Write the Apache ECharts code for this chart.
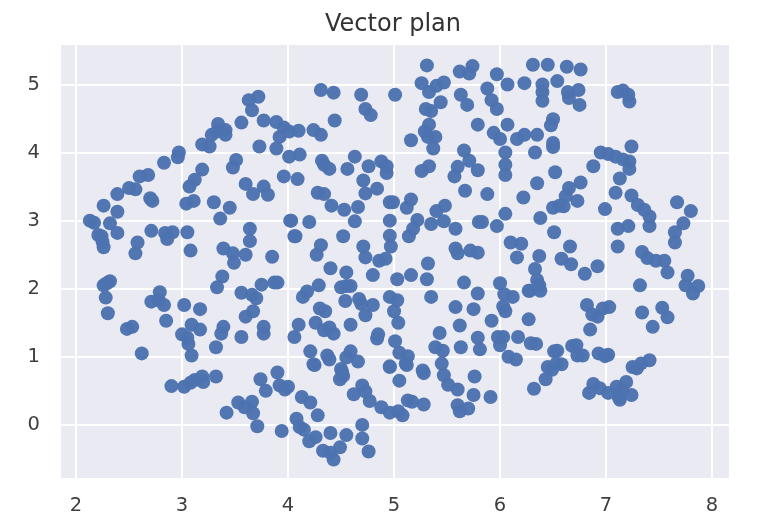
<!DOCTYPE html>
<html><head><meta charset="utf-8">
<script src="https://cdn.jsdelivr.net/npm/echarts@6/dist/echarts.min.js"></script>
<style>html,body{margin:0;padding:0;background:#fff}#c{width:774px;height:532px}</style></head>
<body><div id="c"></div>
<script>
const chartTitle = "Vector plan";
const xExtent = [1.858, 8.16];
const yExtent = [-0.78, 5.58];
const xTicks = [2,3,4,5,6,7,8];
const yTicks = [0,1,2,3,4,5];
const topLeft = [[3.72,4.82],[3.63,4.77],[3.66,4.62],[3.56,4.44],[3.77,4.47],[3.89,4.45],[3.96,4.37],[3.92,4.23],[4.01,4.31],[4.10,4.32],[3.34,4.42],[3.28,4.26],[3.41,4.33],[3.41,4.26],[3.33,4.31],[3.19,4.12],[3.26,4.09],[3.73,4.09],[3.89,4.06],[4.01,3.94],[4.11,3.97],[2.97,4.0],[2.96,3.93],[2.83,3.85],[2.68,3.67],[2.60,3.65],[2.56,3.46],[2.50,3.48],[2.39,3.39],[2.26,3.22],[2.39,3.13],[2.70,3.33],[2.72,3.29],[3.51,3.89],[3.48,3.78],[3.19,3.75],[3.12,3.60],[3.07,3.50],[3.11,3.29],[3.04,3.25],[3.30,3.27],[3.45,3.19],[3.60,3.54],[3.67,3.39],[3.77,3.50],[3.81,3.38],[3.96,3.65],[4.09,3.61]];
const midLeft = [[2.13,3.00],[2.17,2.97],[2.32,2.96],[2.39,2.82],[2.21,2.79],[2.24,2.77],[2.25,2.69],[2.26,2.61],[2.58,2.68],[2.56,2.52],[2.71,2.85],[2.84,2.82],[2.91,2.83],[2.86,2.73],[3.05,2.83],[3.08,2.56],[3.36,3.03],[4.02,3.00],[4.07,2.77],[3.64,2.88],[3.64,2.70],[3.39,2.59],[3.48,2.52],[3.49,2.38],[3.60,2.50],[3.85,2.47],[3.38,2.18],[3.33,2.02],[3.56,1.94],[3.75,2.06],[3.87,2.09],[3.90,2.09],[3.66,1.91],[3.70,1.86],[3.67,1.67],[3.60,1.59],[3.77,1.44],[3.77,1.34],[2.32,2.11],[2.29,2.08],[2.26,2.05],[2.28,1.87],[2.30,1.64],[2.48,1.41],[2.53,1.44],[2.79,1.95],[2.71,1.81],[2.78,1.83],[2.83,1.76],[3.02,1.76],[3.17,1.70],[2.85,1.53],[2.62,1.05],[3.09,1.47],[3.17,1.40],[3.00,1.33],[3.05,1.28],[3.06,1.19],[3.09,1.02],[3.32,1.14],[3.39,1.44],[3.37,1.34],[3.56,1.29]];
const bottomLeft = [[2.90,0.57],[3.02,0.56],[3.08,0.62],[3.12,0.66],[3.19,0.71],[3.20,0.63],[3.32,0.71],[3.42,0.18],[3.53,0.33],[3.59,0.26],[3.66,0.34],[3.67,0.17],[3.71,-0.02],[3.74,0.67],[3.79,0.50],[3.90,0.77],[3.92,0.58],[3.97,0.52],[4.00,0.56],[3.94,-0.09],[4.13,0.41],[4.21,0.33],[4.28,0.14],[4.08,0.09],[4.11,-0.03],[4.15,-0.07],[4.26,-0.18],[4.20,-0.24],[4.40,-0.12],[4.55,-0.15],[4.49,-0.33],[4.33,-0.38],[4.43,-0.51],[4.40,-0.41],[4.70,0.0],[4.70,-0.20],[4.76,-0.39],[4.25,0.88],[4.51,0.78],[4.52,0.72],[4.49,0.67],[4.70,0.58],[4.62,0.45],[4.73,0.49],[4.77,0.35],[4.88,0.26],[4.96,0.18],[5.04,0.20],[5.08,0.14],[4.96,0.85],[5.05,0.65],[5.12,0.88],[5.17,0.34]];
const topMiddle = [[5.31,5.28],[5.62,5.19],[5.71,5.16],[5.74,5.27],[5.97,5.15],[6.07,5.0],[6.23,5.02],[5.26,5.02],[5.47,5.03],[5.40,4.98],[5.33,4.89],[4.31,4.92],[4.43,4.88],[4.69,4.85],[5.01,4.85],[4.73,4.64],[4.78,4.55],[4.44,4.47],[5.63,4.85],[5.69,4.70],[5.88,4.94],[5.92,4.77],[5.97,4.64],[5.44,4.74],[5.30,4.64],[5.35,4.61],[5.33,4.41],[5.79,4.41],[6.07,4.41],[4.24,4.33],[4.31,4.26],[5.29,4.31],[5.32,4.23],[5.39,4.23],[5.37,4.06],[5.16,4.18],[5.94,4.29],[6.0,4.20],[6.16,4.20],[6.23,4.26],[6.05,4.0],[6.05,3.82],[6.05,3.67],[5.66,4.03],[5.71,3.88],[5.79,3.74],[4.32,3.88],[4.34,3.82],[4.39,3.76],[4.63,3.94],[4.56,3.76],[4.76,3.80],[4.88,3.87],[4.93,3.80],[4.93,3.70],[5.33,3.80],[5.26,3.73],[5.60,3.79],[5.57,3.65],[4.71,3.59],[4.73,3.40],[4.84,3.47],[4.28,3.41],[4.34,3.39],[5.67,3.44],[5.88,3.39],[6.22,3.34],[4.41,3.22],[4.53,3.16],[4.66,3.20],[4.96,3.27],[4.99,3.27],[5.16,3.31],[5.12,3.19],[5.48,3.22],[5.40,3.14]];
const centre = [[4.63,2.99],[4.03,3.0],[4.20,2.98],[4.06,2.77],[4.52,2.77],[4.96,3.0],[5.22,3.01],[5.18,2.88],[5.14,2.77],[5.35,2.95],[5.47,2.99],[5.58,2.88],[5.80,2.98],[5.83,2.98],[5.97,2.92],[6.05,3.10],[4.96,2.78],[4.97,2.62],[4.71,2.62],[4.73,2.46],[4.86,2.41],[4.92,2.44],[4.31,2.64],[4.27,2.50],[4.40,2.30],[4.55,2.24],[4.55,2.04],[4.59,2.04],[4.50,2.02],[4.80,2.20],[5.03,2.14],[5.16,2.20],[5.31,2.14],[5.32,2.37],[5.58,2.59],[5.60,2.52],[5.72,2.56],[5.79,2.53],[6.10,2.68],[6.20,2.66],[6.16,2.46],[4.29,2.05],[4.18,1.96],[4.14,1.88],[5.66,2.09],[6.0,2.08],[5.79,1.93],[6.04,1.92],[6.12,1.88],[5.35,1.88],[6.27,1.97],[4.54,1.82],[4.67,1.85],[4.69,1.78],[4.80,1.76],[4.73,1.61],[4.96,1.88],[5.03,1.83],[5.0,1.67],[5.58,1.73],[5.75,1.70],[6.03,1.74],[6.05,1.67],[4.30,1.71],[4.35,1.67],[5.04,1.50],[5.62,1.46],[5.92,1.53],[4.10,1.47],[4.26,1.50],[4.34,1.39],[4.39,1.43],[4.43,1.34],[4.59,1.47],[4.85,1.33],[4.84,1.27],[4.06,1.29],[5.43,1.35],[5.01,1.23],[5.39,1.14],[5.46,1.09],[5.63,1.14],[5.79,1.28],[5.81,1.11],[5.98,1.29],[6.03,1.29],[6.0,1.17],[6.17,1.29],[5.05,1.06],[5.13,1.01],[6.08,1.0],[6.15,0.96],[4.21,1.08],[4.37,1.02],[4.39,0.96],[4.59,1.08],[4.55,0.99],[4.66,0.93],[4.24,0.89],[4.96,0.86],[5.11,0.90],[5.45,0.90],[4.50,0.82],[5.27,0.80]];
const bottomRight = [[5.28,0.76],[5.47,0.73],[5.51,0.59],[5.60,0.52],[5.76,0.71],[5.75,0.44],[5.91,0.41],[5.13,0.36],[5.28,0.30],[5.60,0.29],[5.62,0.20],[5.70,0.24],[6.34,1.19],[6.54,1.09],[6.72,1.17],[6.78,1.02],[6.58,0.89],[6.49,0.81],[6.43,0.67],[6.32,0.53],[7.29,0.83],[6.88,0.60],[6.84,0.47],[6.94,0.54],[7.02,0.47],[7.10,0.56],[7.19,0.63],[7.12,0.41],[7.13,0.37],[7.24,0.44],[7.15,0.51]];
const topRight = [[6.31,5.29],[6.45,5.29],[6.63,5.26],[6.76,5.22],[6.54,5.05],[6.40,5.0],[6.40,4.89],[6.40,4.76],[6.64,4.89],[6.74,4.92],[6.65,4.80],[6.75,4.70],[7.11,4.89],[7.16,4.91],[7.21,4.85],[7.22,4.75],[6.50,4.49],[6.48,4.40],[6.35,4.26],[6.50,4.14],[6.50,4.08],[6.33,4.0],[7.24,4.09],[6.95,4.0],[7.02,3.98],[7.09,3.94],[7.16,3.90],[7.22,3.87],[7.22,3.76],[6.88,3.80],[6.52,3.71],[7.13,3.62],[6.35,3.55],[6.76,3.56],[6.65,3.48],[6.62,3.36],[6.73,3.29],[6.56,3.22],[6.50,3.19],[7.09,3.41],[7.24,3.37],[7.30,3.23],[7.36,3.16],[7.67,3.27],[6.99,3.17],[7.80,3.14]];
const midRight = [[6.38,3.04],[6.60,3.21],[7.41,3.06],[7.41,2.92],[7.73,2.96],[7.65,2.83],[7.65,2.68],[6.51,2.83],[6.66,2.62],[7.11,2.88],[7.21,2.92],[7.11,2.62],[6.37,2.48],[6.58,2.44],[6.67,2.36],[6.80,2.22],[6.92,2.33],[6.33,2.29],[6.35,2.13],[6.28,1.97],[6.38,1.97],[6.37,2.05],[7.34,2.54],[7.39,2.45],[7.47,2.41],[7.55,2.41],[7.58,2.24],[7.77,2.19],[7.75,2.05],[7.87,2.04],[7.82,1.93],[7.32,2.05],[6.82,1.76],[7.03,1.73],[6.97,1.71],[6.87,1.62],[6.92,1.59],[6.85,1.40],[7.34,1.65],[7.53,1.72],[7.58,1.58],[7.44,1.44],[6.27,1.55],[6.29,1.20],[6.51,1.08],[6.68,1.16],[6.73,1.02],[6.93,1.05],[6.99,1.01],[7.02,1.03],[6.53,0.90],[6.45,0.85],[7.41,0.95],[7.33,0.90],[7.25,0.85]];
const points = [].concat(topLeft, midLeft, bottomLeft, topMiddle, centre, bottomRight, topRight, midRight);

const axisCommon = (ticks, margin, padding) => ({
  type: 'value',
  axisLine: {show: false},
  axisTick: {show: false, customValues: ticks},
  splitLine: {show: true, lineStyle: {color: '#ffffff', width: 2}},
  axisLabel: {color: '#3f3f3f', fontFamily: 'DejaVu Sans', fontSize: 19.5, customValues: ticks, margin: margin, padding: padding}
});
const chart = echarts.init(document.getElementById('c'));
chart.setOption({
  animation: false,
  backgroundColor: '#ffffff',
  title: {text: chartTitle, left: 388, top: 8, textAlign: 'center',
    textStyle: {color: '#333333', fontFamily: 'DejaVu Sans', fontSize: 24, fontWeight: 'normal'}},
  grid: {left: 61, right: 45, top: 45, bottom: 54, backgroundColor: '#eaeaf2', show: true, borderWidth: 0},
  xAxis: Object.assign(axisCommon(xTicks, 18, 0), {min: xExtent[0], max: xExtent[1]}),
  yAxis: Object.assign(axisCommon(yTicks, 21, [3,0,0,0]), {min: yExtent[0], max: yExtent[1]}),
  series: [{type: 'scatter', data: points, symbolSize: 14, itemStyle: {color: '#4c72b0', opacity: 0.97}}]
});
</script></body></html>
